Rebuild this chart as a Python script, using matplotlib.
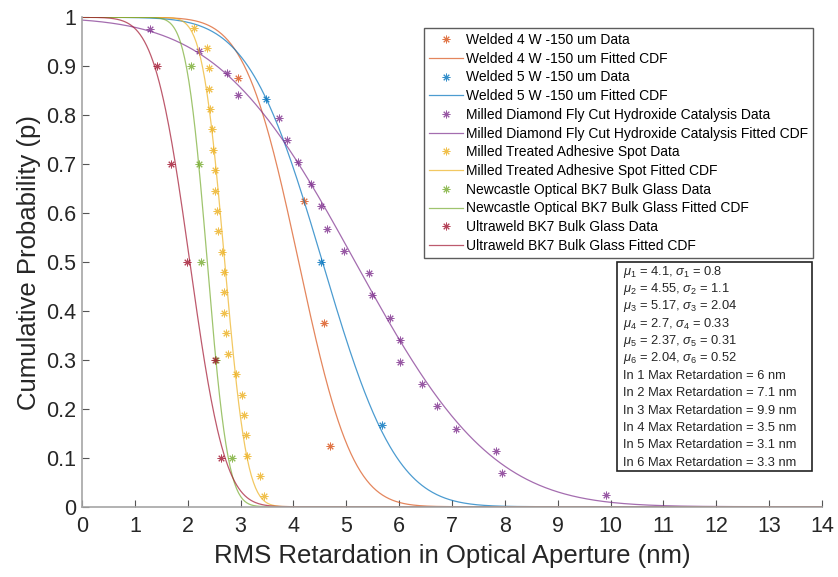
import math
import numpy as np
import matplotlib
matplotlib.use("Agg")
import matplotlib.pyplot as plt
from matplotlib.patches import Rectangle

plt.rcParams['font.family'] = ['Liberation Sans', 'DejaVu Sans']
plt.rcParams['mathtext.fontset'] = 'custom'
plt.rcParams['mathtext.rm'] = 'Liberation Sans'
plt.rcParams['mathtext.it'] = 'Liberation Sans:italic'

# measured data points (RMS retardation, cumulative probability)
w4_x = [2.95, 4.20, 4.58, 4.69]
w4_y = [0.875, 0.625, 0.375, 0.125]
w5_x = [3.48, 4.53, 5.68]
w5_y = [0.833, 0.500, 0.167]
md_x = [1.29, 2.21, 2.74, 2.96, 3.73, 3.88, 4.08, 4.33, 4.52, 4.64, 4.96,
        5.43, 5.49, 5.82, 6.02, 6.02, 6.43, 6.72, 7.08, 7.84, 7.94, 9.91]
md_y = [0.977, 0.932, 0.886, 0.841, 0.795, 0.750, 0.705, 0.659, 0.614, 0.568, 0.523,
        0.477, 0.432, 0.386, 0.341, 0.295, 0.250, 0.205, 0.159, 0.114, 0.068, 0.023]
ad_x = [2.11, 2.36, 2.40, 2.41, 2.43, 2.46, 2.48, 2.51, 2.52, 2.55, 2.57, 2.64,
        2.69, 2.69, 2.69, 2.72, 2.77, 2.91, 3.03, 3.06, 3.10, 3.13, 3.37, 3.44]
ad_y = [0.979, 0.938, 0.896, 0.854, 0.813, 0.771, 0.729, 0.688, 0.646, 0.604, 0.563, 0.521,
        0.479, 0.438, 0.396, 0.354, 0.313, 0.271, 0.229, 0.188, 0.146, 0.104, 0.063, 0.021]
nc_x = [2.06, 2.21, 2.25, 2.53, 2.83]
nc_y = [0.9, 0.7, 0.5, 0.3, 0.1]
uw_x = [1.41, 1.68, 1.99, 2.52, 2.63]
uw_y = [0.9, 0.7, 0.5, 0.3, 0.1]

# fitted normal parameters (from the annotation box)
mus = [4.1, 4.55, 5.17, 2.7, 2.37, 2.04]
sigmas = [0.8, 1.1, 2.04, 0.33, 0.31, 0.52]
max_ret = ['6', '7.1', '9.9', '3.5', '3.1', '3.3']

names = ['Welded 4 W -150 um', 'Welded 5 W -150 um',
         'Milled Diamond Fly Cut Hydroxide Catalysis', 'Milled Treated Adhesive Spot',
         'Newcastle Optical BK7 Bulk Glass', 'Ultraweld BK7 Bulk Glass']
colors = ['#D95319', '#0072BD', '#7E2F8E', '#EDB120', '#77AC30', '#A2142F']
xs = [w4_x, w5_x, md_x, ad_x, nc_x, uw_x]
ys = [w4_y, w5_y, md_y, ad_y, nc_y, uw_y]

fig = plt.figure(figsize=(8.38, 5.77), dpi=100)
ax = fig.add_axes([82 / 838, 70.3 / 577, 740 / 838, 489.4 / 577])

grid = np.linspace(0, 14, 700)
for i in range(6):
    ax.plot(xs[i], ys[i], linestyle='none', marker=(8, 2, 0), markersize=5.5,
            markeredgewidth=0.7, color=colors[i], alpha=0.8, label=names[i] + ' Data')
    fit = [0.5 * math.erfc((g - mus[i]) / (sigmas[i] * math.sqrt(2))) for g in grid]
    ax.plot(grid, fit, color=colors[i], linewidth=0.9, alpha=0.7,
            label=names[i] + ' Fitted CDF')

ax.set_xlim(0, 14)
ax.set_ylim(0, 1)
ax.set_xticks(range(15))
ax.set_yticks(np.arange(0, 1.01, 0.1))
ax.set_yticklabels(['0', '0.1', '0.2', '0.3', '0.4', '0.5', '0.6', '0.7', '0.8', '0.9', '1'])
for s in ['top', 'right']:
    ax.spines[s].set_visible(False)
for s in ['left', 'bottom']:
    ax.spines[s].set_color('#A6A6A6')
    ax.spines[s].set_linewidth(1.2)
ax.tick_params(direction='in', length=5, width=0.8, color='#555555',
               labelsize=15.5, labelcolor='#262626', pad=4)
ax.tick_params(axis='x', pad=7)
ax.set_xlabel('RMS Retardation in Optical Aperture (nm)', fontsize=18.5, color='#262626', labelpad=5)
ax.set_ylabel('Cumulative Probability (p)', fontsize=18.5, color='#262626', labelpad=4)

leg = ax.legend(loc='upper right', bbox_to_anchor=(0.988, 0.978), borderaxespad=0,
                fontsize=10, frameon=True, fancybox=False, handlelength=2.5,
                handletextpad=0.2, labelspacing=0.34, borderpad=0.35)
leg.get_frame().set_edgecolor('#333333')
leg.get_frame().set_linewidth(1.0)

# parameter annotation box (figure pixel coordinates)
W, H = 838, 577
bx0, by0, bx1, by1 = 617, 262, 812, 471
fig.patches.append(Rectangle((bx0 / W, 1 - by1 / H), (bx1 - bx0) / W, (by1 - by0) / H,
                             transform=fig.transFigure, facecolor='white',
                             edgecolor='#222222', linewidth=1.2))
lines = []
for i in range(6):
    lines.append(r'$\mu_{%d}$ = %s, $\sigma_{%d}$ = %s' % (i + 1, mus[i], i + 1, sigmas[i]))
for i in range(6):
    lines.append('In %d Max Retardation = %s nm' % (i + 1, max_ret[i]))
for k, t in enumerate(lines):
    fig.text((bx0 + 6) / W, 1 - (271.5 + k * 17.4) / H, t, fontsize=9.3,
             va='center', ha='left', color='#262626')

fig.savefig('out.png', dpi=100)
